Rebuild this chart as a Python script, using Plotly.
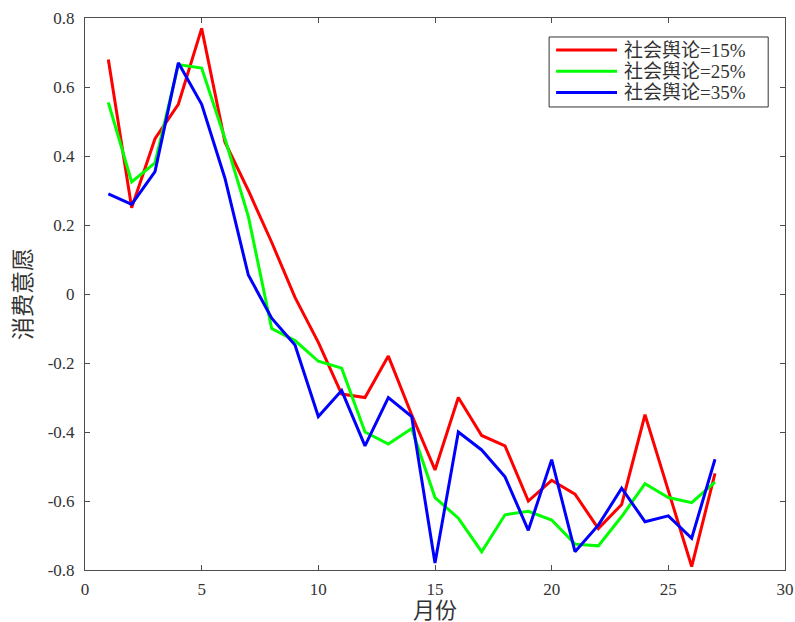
import plotly.graph_objects as go

# Monthly consumption willingness under three levels of public opinion
months = list(range(1, 28))

opinion_15 = [0.68, 0.25, 0.45, 0.55, 0.77, 0.44, 0.30, 0.15, -0.01, -0.14,
              -0.29, -0.30, -0.18, -0.35, -0.51, -0.30, -0.41, -0.44, -0.60, -0.54,
              -0.58, -0.68, -0.61, -0.35, -0.57, -0.79, -0.52]
opinion_25 = [0.555, 0.325, 0.38, 0.665, 0.655, 0.45, 0.225, -0.10, -0.135, -0.195,
              -0.215, -0.40, -0.435, -0.39, -0.59, -0.65, -0.747, -0.64, -0.63, -0.655,
              -0.725, -0.73, -0.645, -0.55, -0.59, -0.605, -0.545]
opinion_35 = [0.29, 0.26, 0.355, 0.67, 0.55, 0.335, 0.055, -0.07, -0.148, -0.355,
              -0.28, -0.44, -0.30, -0.355, -0.78, -0.40, -0.452, -0.53, -0.685, -0.48,
              -0.747, -0.67, -0.563, -0.66, -0.643, -0.708, -0.479]

series_names = ["社会舆论=15%", "社会舆论=25%", "社会舆论=35%"]
series_colors = ["#ff0000", "#00ff00", "#0000ff"]

x_ticks = [0, 5, 10, 15, 20, 25, 30]
y_ticks = [-0.8, -0.6, -0.4, -0.2, 0, 0.2, 0.4, 0.6, 0.8]
y_tick_text = ["-0.8", "-0.6", "-0.4", "-0.2", "0", "0.2", "0.4", "0.6", "0.8"]
x_title = "月份"
y_title = "消费意愿"

# Serif face first for digits; CJK glyphs fall back to Noto Sans CJK
text_font = "Liberation Serif, Noto Sans CJK SC, serif"
text_color = "#333333"
axis_color = "#4d4d4d"

fig = go.Figure()
for name, ys, color in zip(series_names, [opinion_15, opinion_25, opinion_35], series_colors):
    fig.add_trace(go.Scatter(x=months, y=ys, mode="lines", name=name,
                             line=dict(color=color, width=3), showlegend=False))

axis_common = dict(
    showline=True, linecolor=axis_color, linewidth=1, mirror="ticks",
    ticks="inside", ticklen=5, tickcolor=axis_color, tickwidth=1,
    showgrid=False, zeroline=False, automargin=False,
    tickfont=dict(family=text_font, size=17, color=text_color),
)

fig.update_xaxes(range=[0, 30], tickvals=x_ticks, ticklabelstandoff=4, **axis_common)
fig.update_yaxes(range=[-0.8, 0.8], tickvals=y_ticks, ticktext=y_tick_text,
                 ticklabelstandoff=6, **axis_common,
                 title=dict(text=y_title, font=dict(family=text_font, size=23, color=text_color),
                            standoff=9))

# Legend box drawn in paper coordinates (top-right inside the axes)
box_x0, box_x1, box_y0, box_y1 = 0.663, 0.976, 0.8388, 0.9656
line_x0, line_x1, text_x = 0.673, 0.760, 0.767
row_y = [0.9420, 0.9036, 0.8652]

shapes = [dict(type="rect", xref="paper", yref="paper",
               x0=box_x0, x1=box_x1, y0=box_y0, y1=box_y1,
               line=dict(color=text_color, width=1), fillcolor="white", layer="above")]
annotations = []
for name, color, ry in zip(series_names, series_colors, row_y):
    shapes.append(dict(type="line", xref="paper", yref="paper",
                       x0=line_x0, x1=line_x1, y0=ry, y1=ry,
                       line=dict(color=color, width=3), layer="above"))
    annotations.append(dict(xref="paper", yref="paper", x=text_x, y=ry,
                            xanchor="left", yanchor="middle", showarrow=False,
                            text=name, font=dict(family=text_font, size=19, color=text_color)))

# x-axis title placed just under the tick labels
annotations.append(dict(xref="paper", yref="paper", x=0.5, y=-0.0475,
                        xanchor="center", yanchor="top", showarrow=False,
                        text=x_title, font=dict(family=text_font, size=22, color=text_color)))

fig.update_layout(
    width=795, height=622,
    margin=dict(l=85, r=10, t=18, b=52),
    plot_bgcolor="white", paper_bgcolor="white",
    shapes=shapes, annotations=annotations,
    showlegend=False,
)

fig.write_html("out.html")
